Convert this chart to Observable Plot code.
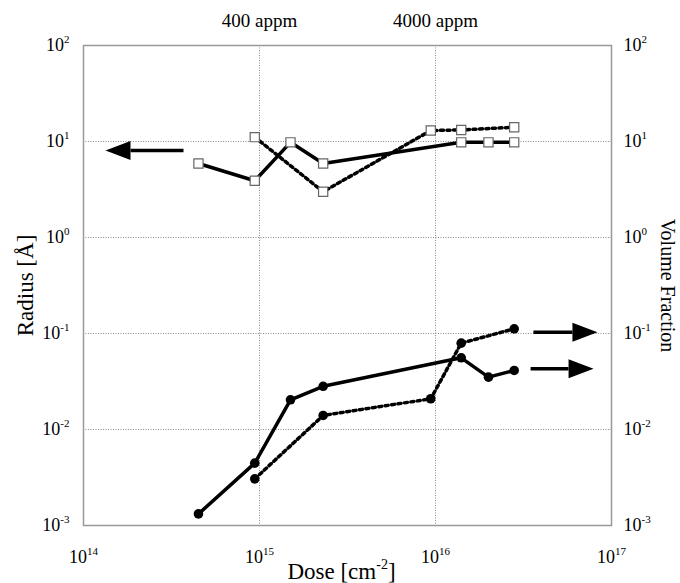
<!DOCTYPE html>
<html>
<head>
<meta charset="utf-8">
<script src="https://cdn.jsdelivr.net/npm/d3@7"></script>
<script src="https://cdn.jsdelivr.net/npm/@observablehq/plot@0.6"></script>
<style>
  html, body { margin: 0; padding: 0; background: white; }
  #chart { width: 680px; height: 583px; }
  #chart svg text { font-family: 'Liberation Serif', 'Times New Roman', serif; }
</style>
</head>
<body>
<div id="chart"></div>
<script>
// ---- data ----
const radiusSolidX  = [4.5e14, 9.4e14, 1.5e15, 2.3e15, 1.4e16, 2.0e16, 2.8e16];
const radiusSolidY  = [5.9, 3.9, 9.8, 5.9, 9.8, 9.8, 9.8];
const radiusDashedX = [9.4e14, 2.3e15, 9.4e15, 1.4e16, 2.8e16];
const radiusDashedY = [11.1, 3.0, 13.0, 13.2, 14.1];
const vfSolidX  = [4.5e14, 9.4e14, 1.5e15, 2.3e15, 1.4e16, 2.0e16, 2.8e16];
const vfSolidY  = [0.00132, 0.00446, 0.0204, 0.0282, 0.0558, 0.0351, 0.0412];
const vfDashedX = [9.4e14, 2.3e15, 9.4e15, 1.4e16, 2.8e16];
const vfDashedY = [0.00306, 0.0140, 0.0209, 0.0793, 0.112];

// arrows: shaft start, shaft end (head base), level, head direction
const arrowStartX = [3.7e14, 3.6e16, 3.47e16];
const arrowEndX   = [1.85e14, 6.0e16, 5.7e16];
const arrowY      = [8.05, 0.103, 0.0429];
const arrowRotate = [180, 0, 0];

// ticks and labels
const xTicks = [1e14, 1e15, 1e16, 1e17];
const yTicks = [1e-3, 1e-2, 1e-1, 1e0, 1e1, 1e2];
const xGrid = [1e15, 1e16];
const yGrid = [1e-2, 1e-1, 1e0, 1e1];
const topTicks = [1e15, 1e16];
const topLabels = ["400 appm", "4000 appm"];
const xLabel = "Dose [cm^{-2}]";
const yLabelLeft = "Radius [Å]";
const yLabelRight = "Volume Fraction";

// ---- build tables ----
const zip = (xs, ys) => xs.map((x, i) => ({x, y: ys[i]}));
const rSolid = zip(radiusSolidX, radiusSolidY);
const rDashed = zip(radiusDashedX, radiusDashedY);
const vSolid = zip(vfSolidX, vfSolidY);
const vDashed = zip(vfDashedX, vfDashedY);
const arrows = arrowStartX.map((x1, i) => ({x1, x2: arrowEndX[i], y: arrowY[i], r: arrowRotate[i]}));
const topTable = topTicks.map((x, i) => ({x, label: topLabels[i]}));

const pow = d => `10^{${Math.round(Math.log10(d))}}`;
const headSymbol = {
  draw(context) {
    context.moveTo(25, 0);
    context.lineTo(0, -9.5);
    context.lineTo(0, 9.5);
    context.closePath();
  }
};

const LW = 3.5;
const DASH = "3,3.5";
const TF = 18;
const chart = Plot.plot({
  width: 680,
  height: 583,
  marginLeft: 83,
  marginRight: 69,
  marginTop: 45,
  marginBottom: 58,
  style: {fontFamily: "'Liberation Serif', 'Times New Roman', serif", fontSize: "18px", color: "black", background: "white"},
  x: {type: "log", domain: [1e14, 1e17]},
  y: {type: "log", domain: [1e-3, 1e2]},
  marks: [
    Plot.gridX(xGrid, {stroke: "#8a8a8a", strokeOpacity: 1, strokeWidth: 1, strokeDasharray: "1,1.5"}),
    Plot.gridY(yGrid, {stroke: "#8a8a8a", strokeOpacity: 1, strokeWidth: 1, strokeDasharray: "1,1.5"}),
    Plot.frame({stroke: "#999", strokeWidth: 1.5}),
    Plot.axisX(xTicks, {anchor: "bottom", tickSize: 0, tickPadding: 25, tickFormat: pow, label: null, fontSize: TF}),
    Plot.axisY(yTicks, {anchor: "left", tickSize: 0, tickPadding: 14, tickFormat: pow, label: null, fontSize: TF}),
    Plot.axisY(yTicks, {anchor: "right", tickSize: 0, tickPadding: 12, tickFormat: pow, label: null, fontSize: TF}),
    // top labels (appm)
    Plot.text(topTable, {x: "x", text: "label", frameAnchor: "top", dy: -25, lineAnchor: "middle", fontSize: 19}),
    // lines
    Plot.line(rSolid, {x: "x", y: "y", stroke: "black", strokeWidth: LW}),
    Plot.line(rDashed, {x: "x", y: "y", stroke: "black", strokeWidth: LW, strokeDasharray: DASH}),
    Plot.line(vSolid, {x: "x", y: "y", stroke: "black", strokeWidth: LW}),
    Plot.line(vDashed, {x: "x", y: "y", stroke: "black", strokeWidth: LW, strokeDasharray: DASH}),
    // markers
    Plot.dot(rSolid, {x: "x", y: "y", symbol: "square", r: 5.2, fill: "white", stroke: "#666", strokeWidth: 1.2}),
    Plot.dot(rDashed, {x: "x", y: "y", symbol: "square", r: 5.2, fill: "white", stroke: "#666", strokeWidth: 1.2}),
    Plot.dot(vSolid, {x: "x", y: "y", r: 4.8, fill: "black", stroke: "none"}),
    Plot.dot(vDashed, {x: "x", y: "y", r: 4.8, fill: "black", stroke: "none"}),
    // arrows
    Plot.link(arrows, {x1: "x1", x2: "x2", y1: "y", y2: "y", stroke: "black", strokeWidth: 3.5}),
    Plot.dot(arrows, {x: "x2", y: "y", symbol: headSymbol, r: 5, rotate: "r", fill: "black", stroke: "none"}),
    // axis titles
    Plot.text([yLabelLeft], {frameAnchor: "left", text: d => d, rotate: -90, dx: -58, textAnchor: "middle", fontSize: 23}),
    Plot.text([yLabelRight], {frameAnchor: "right", text: d => d, rotate: 90, dx: 56, textAnchor: "middle", fontSize: 20}),
    Plot.text([xLabel], {frameAnchor: "bottom", text: d => d, dx: -6, dy: 46, lineAnchor: "middle", fontSize: 23})
  ]
});

document.getElementById("chart").appendChild(chart);

// turn "^{...}" into superscript tspans
const NS = "http://www.w3.org/2000/svg";
d3.select(chart).selectAll("text").each(function() {
  const el = this;
  const s = el.textContent;
  if (!s.includes("^{")) return;
  const fs = parseFloat(getComputedStyle(el).fontSize) || 16;
  const shift = Math.round(fs * 0.42);
  el.textContent = "";
  const re = /\^\{([^}]*)\}/g;
  let last = 0, m, raised = false;
  const add = (txt, attrs) => {
    const t = document.createElementNS(NS, "tspan");
    for (const k in attrs) t.setAttribute(k, attrs[k]);
    t.textContent = txt;
    el.appendChild(t);
  };
  while ((m = re.exec(s))) {
    if (m.index > last) {
      add(s.slice(last, m.index), raised ? {dy: shift} : {});
      raised = false;
    }
    add(m[1], {dy: -shift, "font-size": Math.round(fs * 0.62)});
    raised = true;
    last = re.lastIndex;
  }
  if (last < s.length) add(s.slice(last), raised ? {dy: shift} : {});
});
</script>
</body>
</html>
